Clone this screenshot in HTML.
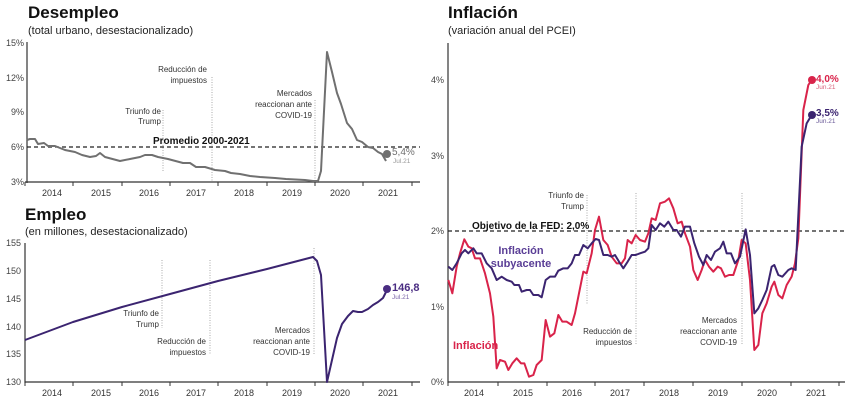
<!DOCTYPE html>
<html><head><meta charset="utf-8"><style>
html,body{margin:0;padding:0;background:#fff;}
svg{display:block;font-family:"Liberation Sans",sans-serif;}
</style></head><body>
<svg width="850" height="402" viewBox="0 0 850 402">
<rect width="850" height="402" fill="#fff"/>
<!-- ===== Desempleo ===== -->
<text x="28" y="18" font-size="17" font-weight="bold" fill="#111">Desempleo</text>
<text x="28" y="34" font-size="11" fill="#222">(total urbano, desestacionalizado)</text>
<g font-size="9" fill="#444" text-anchor="end">
<text x="24" y="46">15%</text><text x="24" y="81">12%</text><text x="24" y="115">9%</text><text x="24" y="150">6%</text><text x="24" y="185">3%</text>
</g>
<line x1="27" y1="42" x2="27" y2="183" stroke="#333" stroke-width="1.2"/>
<line x1="25" y1="182" x2="420" y2="182" stroke="#333" stroke-width="1.2"/>
<g stroke="#333"><line x1="25" y1="182" x2="25" y2="186"/><line x1="73" y1="182" x2="73" y2="186"/><line x1="122" y1="182" x2="122" y2="186"/><line x1="170" y1="182" x2="170" y2="186"/><line x1="218" y1="182" x2="218" y2="186"/><line x1="267" y1="182" x2="267" y2="186"/><line x1="315" y1="182" x2="315" y2="186"/><line x1="363" y1="182" x2="363" y2="186"/><line x1="412" y1="182" x2="412" y2="186"/></g>
<g font-size="9" fill="#333" text-anchor="middle"><text x="52" y="196">2014</text><text x="101" y="196">2015</text><text x="149" y="196">2016</text><text x="196" y="196">2017</text><text x="244" y="196">2018</text><text x="292" y="196">2019</text><text x="340" y="196">2020</text><text x="388" y="196">2021</text></g>
<g stroke="#aaa" stroke-dasharray="1,1.5"><line x1="163" y1="110" x2="163" y2="172"/><line x1="212" y1="77" x2="212" y2="181"/><line x1="315" y1="100" x2="315" y2="181"/></g>
<g font-size="8" fill="#333" text-anchor="end"><text x="161" y="114">Triunfo de</text><text x="161" y="124">Trump</text><text x="207" y="72">Reducción de</text><text x="207" y="83">impuestos</text><text x="312" y="96">Mercados</text><text x="312" y="107">reaccionan ante</text><text x="312" y="118">COVID-19</text></g>
<line x1="27" y1="147" x2="420" y2="147" stroke="#222" stroke-width="1.2" stroke-dasharray="4,3"/>
<text x="153" y="144" font-size="10" font-weight="bold" fill="#111">Promedio 2000-2021</text>
<polyline fill="none" stroke="#707070" stroke-width="2" stroke-linejoin="round" points="27,140 30,139 35,139 38,144 44,143 48,146 55,146 60,148 65,150 70,151 75,152 82,155 90,157 96,156 100,153 105,157 120,161 130,159 140,157 145,155 152,155 158,157 168,159 183,163 190,163 196,167 205,167 215,170 225,171 231,173 240,174 250,176 260,177 275,178 286,179 305,180 313,181 318,181 321,171 327,52 332,72 337,93 341,104 347,123 352,129 357,140 362,142 368,147 373,148 378,152 382,154 386,161"/>
<circle cx="387" cy="154" r="4" fill="#707070"/>
<text x="392" y="155" font-size="10" fill="#707070">5,4%</text>
<text x="393" y="163" font-size="6.5" fill="#999">Jul.21</text>
<!-- ===== Empleo ===== -->
<text x="25" y="220" font-size="17" font-weight="bold" fill="#111">Empleo</text>
<text x="25" y="235" font-size="11" fill="#222">(en millones, desestacionalizado)</text>
<g font-size="9" fill="#444" text-anchor="end"><text x="21" y="246">155</text><text x="21" y="274">150</text><text x="21" y="302">145</text><text x="21" y="330">140</text><text x="21" y="357">135</text><text x="21" y="385">130</text></g>
<line x1="25" y1="243" x2="25" y2="383" stroke="#333" stroke-width="1.2"/>
<line x1="25" y1="382" x2="420" y2="382" stroke="#333" stroke-width="1.2"/>
<g stroke="#333"><line x1="25" y1="382" x2="25" y2="386"/><line x1="73" y1="382" x2="73" y2="386"/><line x1="122" y1="382" x2="122" y2="386"/><line x1="170" y1="382" x2="170" y2="386"/><line x1="218" y1="382" x2="218" y2="386"/><line x1="267" y1="382" x2="267" y2="386"/><line x1="315" y1="382" x2="315" y2="386"/><line x1="363" y1="382" x2="363" y2="386"/><line x1="412" y1="382" x2="412" y2="386"/></g>
<g font-size="9" fill="#333" text-anchor="middle"><text x="52" y="396">2014</text><text x="101" y="396">2015</text><text x="149" y="396">2016</text><text x="196" y="396">2017</text><text x="244" y="396">2018</text><text x="292" y="396">2019</text><text x="340" y="396">2020</text><text x="388" y="396">2021</text></g>
<g stroke="#aaa" stroke-dasharray="1,1.5"><line x1="162" y1="260" x2="162" y2="328"/><line x1="210" y1="260" x2="210" y2="355"/><line x1="314" y1="248" x2="314" y2="355"/></g>
<g font-size="8" fill="#333" text-anchor="end"><text x="159" y="316">Triunfo de</text><text x="159" y="327">Trump</text><text x="206" y="344">Reducción de</text><text x="206" y="355">impuestos</text><text x="310" y="333">Mercados</text><text x="310" y="344">reaccionan ante</text><text x="310" y="355">COVID-19</text></g>
<polyline fill="none" stroke="#3b2470" stroke-width="2" stroke-linejoin="round" points="25,340 73,322 122,307 170,294 218,281 267,269 313,257 317,261 321,275 327,382 332,360 337,338 342,324 348,316 353,311 358,312 362,312 368,309 373,305 378,302 383,298 387,290"/>
<circle cx="387" cy="289" r="4" fill="#4a2d82"/>
<text x="392" y="291" font-size="11" font-weight="bold" fill="#4a2d82">146,8</text>
<text x="392" y="299" font-size="6.5" fill="#7a64a8">Jul.21</text>
<!-- ===== Inflación ===== -->
<text x="448" y="18" font-size="17" font-weight="bold" fill="#111">Inflación</text>
<text x="448" y="34" font-size="11" fill="#222">(variación anual del PCEI)</text>
<g font-size="9" fill="#444" text-anchor="end"><text x="444" y="83">4%</text><text x="444" y="159">3%</text><text x="444" y="234">2%</text><text x="444" y="310">1%</text><text x="444" y="385">0%</text></g>
<line x1="448" y1="43" x2="448" y2="383" stroke="#333" stroke-width="1.2"/>
<line x1="448" y1="382" x2="845" y2="382" stroke="#333" stroke-width="1.2"/>
<g stroke="#333"><line x1="448" y1="382" x2="448" y2="386"/><line x1="498" y1="382" x2="498" y2="386"/><line x1="547" y1="382" x2="547" y2="386"/><line x1="595" y1="382" x2="595" y2="386"/><line x1="644" y1="382" x2="644" y2="386"/><line x1="693" y1="382" x2="693" y2="386"/><line x1="742" y1="382" x2="742" y2="386"/><line x1="791" y1="382" x2="791" y2="386"/><line x1="839" y1="382" x2="839" y2="386"/></g>
<g font-size="9" fill="#333" text-anchor="middle"><text x="474" y="396">2014</text><text x="523" y="396">2015</text><text x="572" y="396">2016</text><text x="620" y="396">2017</text><text x="669" y="396">2018</text><text x="718" y="396">2019</text><text x="767" y="396">2020</text><text x="816" y="396">2021</text></g>
<g stroke="#aaa" stroke-dasharray="1,1.5"><line x1="587" y1="195" x2="587" y2="305"/><line x1="636" y1="193" x2="636" y2="345"/><line x1="742" y1="193" x2="742" y2="345"/></g>
<g font-size="8" fill="#333" text-anchor="end"><text x="584" y="198">Triunfo de</text><text x="584" y="209">Trump</text><text x="632" y="334">Reducción de</text><text x="632" y="345">impuestos</text><text x="737" y="323">Mercados</text><text x="737" y="334">reaccionan ante</text><text x="737" y="345">COVID-19</text></g>
<line x1="448" y1="231" x2="845" y2="231" stroke="#222" stroke-width="1.2" stroke-dasharray="4,3"/>
<text x="472" y="229" font-size="10" font-weight="bold" fill="#111">Objetivo de la FED: 2,0%</text>
<g transform="translate(425,0) scale(0.33333)">
<polyline fill="none" stroke="#d9234a" stroke-width="6" stroke-linejoin="round" points="70,840 82,880 95,800 105,760 118,718 130,740 140,745 150,775 165,775 180,820 195,880 205,950 215,1105 225,1080 240,1085 250,1110 262,1090 275,1075 288,1090 298,1090 312,1130 325,1125 335,1095 350,1080 362,960 375,1010 388,1000 400,945 412,965 425,965 440,975 450,940 462,880 475,815 485,820 500,760 510,690 522,650 535,720 548,735 560,770 575,790 590,790 600,775 608,720 620,730 632,705 645,720 660,725 670,700 680,655 692,660 705,610 720,605 732,595 745,625 758,670 770,665 780,700 795,740 805,810 818,840 830,810 840,780 852,800 865,815 878,800 888,805 900,830 912,825 925,825 940,780 950,720 962,730 975,840 988,1050 1000,1035 1012,940 1025,910 1040,860 1048,845 1060,885 1072,895 1085,855 1100,830 1110,790 1120,715 1135,330 1150,255 1160,240"/>
<polyline fill="none" stroke="#3b2470" stroke-width="6" stroke-linejoin="round" points="70,800 82,810 95,790 110,760 120,750 130,760 145,745 155,760 170,760 185,790 200,805 215,840 230,830 245,840 260,845 268,855 282,855 290,875 305,870 315,870 325,885 340,885 350,892 362,840 375,830 390,830 400,812 415,805 428,805 440,790 450,765 462,765 475,735 488,745 500,730 512,717 522,720 535,765 548,765 560,770 570,765 582,785 595,805 608,785 620,765 632,765 645,760 660,755 670,745 680,675 692,690 705,670 718,680 730,665 745,690 755,690 768,710 780,680 795,680 808,730 822,770 835,795 845,765 858,780 870,755 885,745 895,725 905,760 918,760 930,790 945,770 962,688 975,765 988,940 1000,925 1012,900 1025,870 1040,800 1048,795 1060,825 1072,830 1090,810 1100,805 1112,810 1130,440 1145,370 1160,345"/>
</g>
<circle cx="812" cy="80" r="4" fill="#d9234a"/>
<circle cx="812" cy="115" r="4" fill="#3b2470"/>
<text x="816" y="82" font-size="10" font-weight="bold" fill="#d9234a">4,0%</text>
<text x="816" y="89" font-size="6.5" fill="#d9607a">Jun.21</text>
<text x="816" y="116" font-size="10" font-weight="bold" fill="#3b2470">3,5%</text>
<text x="816" y="123" font-size="6.5" fill="#6a5a98">Jun.21</text>
<g font-size="11" font-weight="bold" fill="#5a3e96" text-anchor="middle"><text x="521" y="254">Inflación</text><text x="521" y="267">subyacente</text></g>
<text x="453" y="349" font-size="11" font-weight="bold" fill="#d9234a">Inflación</text>
</svg>
</body></html>
